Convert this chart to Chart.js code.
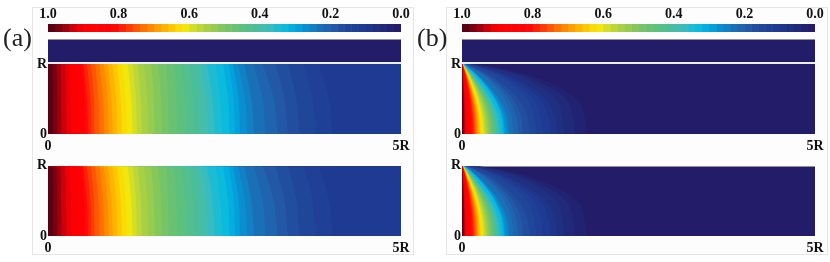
<!DOCTYPE html>
<html>
<head>
<meta charset="utf-8">
<script src="https://cdn.jsdelivr.net/npm/chart.js@4"></script>
<style>
  html, body { margin: 0; background: #fff; }
  #page { position: relative; width: 830px; height: 262px; overflow: hidden; font-family: "Liberation Serif", serif; }
  canvas { position: absolute; filter: blur(0.6px); }
  .frame { position: absolute; top: 7px; width: 382px; height: 248px; border: 1px solid #e6e6e6; background: #fdfdfe; box-sizing: border-box; }
  .tag { position: absolute; top: 23px; font-size: 26px; color: #222; filter: blur(0.5px); }
</style>
</head>
<body>
<div id="page">
  <div class="frame" style="left:32px"></div>
  <div class="frame" style="left:446px"></div>
  <div class="tag" style="left:3px">(a)</div>
  <div class="tag" style="left:417px">(b)</div>
</div>
<script>
// contour levels of the colour bar, hottest first (last one is the floor)
const levels = [.98,.96,.94,.92,.90,.88,.86,.84,.82,.80,.78,.76,.74,.72,.70,.68,.66,.64,.62,.60,.58,.56,.54,.52,.50,.48,.46,.44,.42,.40,.38,.36,.34,.32,.30,.28,.26,.24,.22,.20,.18,.16,.14,.12,.10,.08,.06,.04,.02,0];
const bandColors = ['#5a0012','#7a0010','#a0000e','#cc000a','#ec0006','#fc0004','#ff0004','#ff0004','#ff0205','#ff0a06','#ff2206','#ff3c06','#ff5804','#ff7200','#ff8a00','#ffa000','#ffb400','#ffc800','#f8dc04','#f2e60c','#d2de28','#bcd838','#a8d044','#98cc50','#84c85c','#76c468','#68c272','#5cc07e','#52bf8c','#4abe9c','#42bdae','#38bcc0','#1cbcd2','#0cbadc','#04aee0','#04a0dc','#0a8ed0','#1280c4','#1a70b6','#1e64ae','#2258a6','#224ea0','#20469a','#1f4096','#1e3a92','#1f358a','#1f3082','#20297a','#212372','#231c68'];
const barTicks = [1,0.8,0.6,0.4,0.2,0];
const barTickLabels = ['1.0','0.8','0.6','0.4','0.2','0.0'];
const xTicks = [0,5];
const xTickLabels = ['0','5R'];
const yTicks = [0,1];
const yTickLabels = ['0','R'];

// panel (a): axial distance (in R) of each contour, read at r = 0, R/2, R
const rowsA = [0,0.5,1];
const aAtAxis = [.07,.13,.19,.26,.33,.41,.45,.50,.53,.57,.61,.66,.73,.80,.86,.92,.98,1.05,1.12,1.20,1.26,1.33,1.42,1.51,1.61,1.71,1.83,1.96,2.08,2.19,2.27,2.36,2.47,2.57,2.65,2.72,2.82,2.92,3.08,3.25,3.40,3.56,3.79,4.03,5.4,5.6,5.9,6.2,6.5,5];
const aAtMid = [.07,.13,.185,.255,.325,.40,.44,.49,.52,.55,.60,.65,.715,.78,.845,.90,.965,1.03,1.10,1.18,1.245,1.315,1.405,1.50,1.60,1.70,1.82,1.94,2.06,2.17,2.25,2.33,2.44,2.55,2.63,2.70,2.79,2.88,3.04,3.20,3.35,3.52,3.75,3.98,5.4,5.6,5.9,6.2,6.5,5];
const aAtWall = [.065,.12,.18,.24,.31,.38,.41,.45,.48,.50,.55,.61,.67,.73,.79,.85,.91,.98,1.05,1.13,1.20,1.27,1.36,1.46,1.56,1.67,1.78,1.89,2.00,2.10,2.17,2.25,2.37,2.48,2.56,2.62,2.69,2.78,2.91,3.04,3.22,3.40,3.62,3.84,5.3,5.5,5.8,6.1,6.4,5];

// panel (b): same, read at more radii because the contours bend much harder
const rowsB = [0,0.25,0.5,0.7,0.85,0.95,1];
const bAtAxis = [.012,.025,.035,.045,.055,.065,.08,.10,.125,.15,.165,.18,.195,.21,.22,.235,.25,.265,.28,.30,.32,.34,.36,.38,.40,.42,.44,.46,.48,.50,.515,.53,.56,.585,.60,.61,.64,.67,.73,.80,.87,.96,1.05,1.15,1.26,1.35,1.45,1.60,1.77,5];
const bAt25 = [.011,.024,.033,.042,.052,.061,.075,.094,.118,.141,.155,.169,.183,.197,.207,.221,.235,.249,.263,.282,.301,.32,.338,.357,.376,.395,.414,.432,.451,.47,.484,.498,.526,.556,.57,.58,.608,.637,.70,.768,.835,.922,1.02,1.115,1.222,1.31,1.42,1.57,1.735,5];
const bAt50 = [.009,.019,.026,.034,.041,.049,.06,.075,.094,.113,.124,.135,.146,.158,.165,.176,.188,.199,.21,.225,.24,.255,.27,.285,.30,.315,.33,.345,.36,.375,.386,.398,.42,.456,.468,.476,.499,.523,.606,.664,.722,.797,.924,1.012,1.109,1.188,1.334,1.472,1.628,5];
const bAt70 = [.006,.013,.018,.023,.028,.033,.041,.051,.064,.077,.084,.092,.099,.107,.112,.12,.128,.135,.143,.153,.163,.173,.184,.194,.204,.214,.224,.235,.245,.255,.263,.27,.286,.322,.33,.336,.352,.369,.453,.496,.539,.595,.714,.782,.857,.918,1.073,1.184,1.31,5];
const bAt85 = [.003,.007,.01,.013,.016,.019,.023,.029,.036,.044,.048,.052,.057,.061,.064,.068,.073,.077,.081,.087,.093,.099,.104,.11,.116,.122,.128,.133,.139,.145,.149,.154,.162,.193,.198,.201,.211,.221,.292,.32,.348,.384,.483,.529,.58,.621,.754,.832,.92,5];
const bAt95 = [.001,.003,.004,.005,.007,.008,.01,.012,.015,.018,.02,.022,.023,.025,.026,.028,.03,.032,.034,.036,.038,.041,.043,.046,.048,.05,.053,.055,.058,.06,.062,.064,.067,.082,.084,.085,.09,.094,.131,.144,.157,.173,.242,.265,.29,.31,.406,.448,.496,5];
const bAtWall = [.001,.001,.001,.001,.002,.002,.002,.003,.004,.005,.005,.005,.006,.006,.007,.007,.008,.008,.008,.009,.01,.01,.011,.011,.012,.013,.013,.014,.014,.015,.015,.016,.017,.023,.024,.024,.026,.027,.044,.048,.052,.058,.084,.092,.10,.108,.145,.16,.19,5];

// the dark strip above the wall and the white wall line, top plots only
const stripR = [1.03,1.36];
const stripX = [5,5];
const wallR = [1.014,1.014];
const wallX = [0,5];

const tickFont = { family: '"Liberation Serif", serif', weight: 'bold', size: 14 };
const page = document.getElementById('page');

function addCanvas(left, top, w, h) {
  const c = document.createElement('canvas');
  c.width = w; c.height = h;
  c.style.left = left + 'px'; c.style.top = top + 'px';
  c.style.width = w + 'px'; c.style.height = h + 'px';
  page.appendChild(c);
  return c;
}

function colourBar(offset) {
  new Chart(addCanvas(22 + offset, 6, 405, 26), {
    type: 'bar',
    data: {
      labels: [''],
      datasets: levels.map((l, i) => ({
        data: [[l, i ? levels[i - 1] : 1]],
        backgroundColor: bandColors[i],
        borderWidth: 0,
        grouped: false,
        barPercentage: 1,
        categoryPercentage: 1
      }))
    },
    options: {
      indexAxis: 'y', responsive: false, animation: false,
      layout: { autoPadding: false, padding: { left: 26, right: 26 } },
      plugins: { legend: { display: false }, tooltip: { enabled: false } },
      scales: {
        y: { display: false },
        x: {
          position: 'top', reverse: true, min: 0, max: 1,
          grid: { display: false, drawTicks: false }, border: { display: false },
          afterFit: s => { s.height = 18; },
          afterBuildTicks: s => { s.ticks = barTicks.map(value => ({ value })); },
          ticks: { callback: (v, i) => barTickLabels[i], font: tickFont, color: '#111', padding: 1, maxRotation: 0, autoSkip: false }
        }
      }
    }
  });
}

function field(offset, top, plotH, rMax, rows, columns, withStrip) {
  const datasets = levels.map((l, i) => ({
    data: rows.map((r, j) => ({ x: columns[j][i], y: r })),
    backgroundColor: bandColors[i],
    fill: { value: 0 }
  }));
  if (withStrip) {
    datasets.unshift({ data: stripR.map((r, j) => ({ x: stripX[j], y: r })), backgroundColor: bandColors[bandColors.length - 1], fill: { value: 0 } });
    datasets.unshift({ data: wallX.map((x, j) => ({ x, y: wallR[j] })), borderColor: '#e8e8f4', borderWidth: 1.5, fill: false });
  }
  datasets.forEach(d => {
    d.pointRadius = 0;
    if (d.borderWidth === undefined) d.borderWidth = 0;
    d.cubicInterpolationMode = 'monotone';
  });
  new Chart(addCanvas(22 + offset, top - 8, 405, plotH + 30), {
    type: 'line',
    data: { datasets },
    options: {
      indexAxis: 'y', responsive: false, animation: false,
      elements: { line: { capBezierPoints: false } },
      layout: { autoPadding: false, padding: { top: 8, right: 26 } },
      plugins: { legend: { display: false }, tooltip: { enabled: false } },
      scales: {
        x: {
          type: 'linear', min: 0, max: 5,
          grid: { display: false, drawTicks: false }, border: { display: false },
          afterFit: s => { s.height = 22; },
          afterBuildTicks: s => { s.ticks = xTicks.map(value => ({ value })); },
          ticks: { callback: (v, i) => xTickLabels[i], font: tickFont, color: '#111', padding: 4, maxRotation: 0, autoSkip: false }
        },
        y: {
          type: 'linear', min: 0, max: rMax,
          grid: { display: false, drawTicks: false }, border: { display: false },
          afterFit: s => { s.width = 26; },
          afterBuildTicks: s => { s.ticks = yTicks.map(value => ({ value })); },
          ticks: { callback: (v, i) => yTickLabels[i], font: tickFont, color: '#111', padding: 1, autoSkip: false }
        }
      }
    }
  });
}

const columnsA = [aAtAxis, aAtMid, aAtWall];
const columnsB = [bAtAxis, bAt25, bAt50, bAt70, bAt85, bAt95, bAtWall];
[[0, rowsA, columnsA], [414, rowsB, columnsB]].forEach(([offset, rows, columns]) => {
  colourBar(offset);
  field(offset, 38, 96, 1.352, rows, columns, true);
  // top row of the lower plot sits a hair past the scale end so the wall edge stays clean
  field(offset, 165, 71, 0.985, rows, columns, false);
});
</script>
</body>
</html>
